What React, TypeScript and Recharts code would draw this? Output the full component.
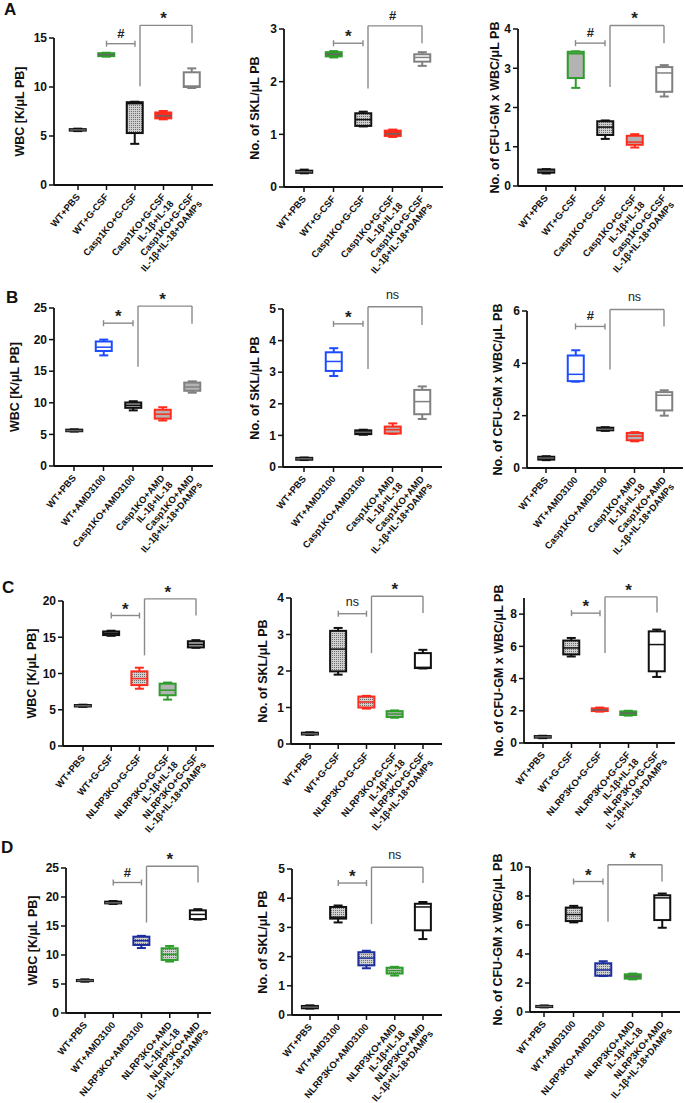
import { ComposedChart, Bar, XAxis, YAxis, ReferenceLine } from 'recharts';

const FONT = '"Liberation Sans", Arial, Helvetica, sans-serif';

// category labels (second line after \n)
const catsA = ['WT+PBS', 'WT+G-CSF', 'Casp1KO+G-CSF', 'Casp1KO+G-CSF\nIL-1β+IL-18', 'Casp1KO+G-CSF\nIL-1β+IL-18+DAMPs'];
const catsB = ['WT+PBS', 'WT+AMD3100', 'Casp1KO+AMD3100', 'Casp1KO+AMD\nIL-1β+IL-18', 'Casp1KO+AMD\nIL-1β+IL-18+DAMPs'];
const catsC = ['WT+PBS', 'WT+G-CSF', 'NLRP3KO+G-CSF', 'NLRP3KO+G-CSF\nIL-1β+IL-18', 'NLRP3KO+G-CSF\nIL-1β+IL-18+DAMPs'];
const catsD = ['WT+PBS', 'WT+AMD3100', 'NLRP3KO+AMD3100', 'NLRP3KO+AMD\nIL-1β+IL-18', 'NLRP3KO+AMD\nIL-1β+IL-18+DAMPs'];

// box stats per group: [min, q1, median, q3, max]
const wbcA = [[5.5, 5.55, 5.62, 5.7, 5.75], [13.1, 13.15, 13.3, 13.45, 13.5], [4.2, 5.3, 8.3, 8.45, 8.5], [6.7, 6.8, 7.05, 7.4, 7.55], [9.9, 10.0, 10.1, 11.5, 11.9]];
const sklA = [[0.26, 0.27, 0.29, 0.31, 0.33], [2.46, 2.48, 2.52, 2.56, 2.58], [1.15, 1.16, 1.28, 1.4, 1.43], [0.95, 0.97, 1.01, 1.07, 1.09], [2.3, 2.38, 2.46, 2.52, 2.56]];
const cfuA = [[0.32, 0.34, 0.38, 0.42, 0.43], [2.5, 2.75, 3.37, 3.42, 3.43], [1.2, 1.3, 1.5, 1.65, 1.67], [0.98, 1.05, 1.12, 1.28, 1.32], [2.28, 2.4, 2.88, 3.03, 3.08]];
const wbcB = [[5.45, 5.5, 5.6, 5.75, 5.8], [17.5, 18.2, 18.8, 19.7, 20.0], [8.8, 9.2, 9.6, 10.05, 10.25], [7.2, 7.5, 8.2, 8.9, 9.3], [11.6, 11.9, 12.5, 13.2, 13.4]];
const sklB = [[0.22, 0.23, 0.26, 0.29, 0.3], [2.88, 3.04, 3.34, 3.63, 3.76], [1.02, 1.04, 1.1, 1.16, 1.18], [1.05, 1.06, 1.18, 1.28, 1.38], [1.52, 1.67, 2.07, 2.44, 2.55]];
const cfuB = [[0.3, 0.32, 0.38, 0.43, 0.45], [3.3, 3.32, 3.58, 4.3, 4.5], [1.42, 1.44, 1.48, 1.54, 1.56], [1.02, 1.06, 1.22, 1.34, 1.37], [2.0, 2.2, 2.78, 2.9, 2.97]];
const wbcC = [[5.4, 5.45, 5.55, 5.65, 5.7], [15.2, 15.3, 15.55, 15.8, 15.9], [7.9, 8.4, 9.3, 10.3, 10.8], [6.4, 7.0, 7.7, 8.6, 8.75], [13.55, 13.6, 14.0, 14.45, 14.6]];
const sklC = [[0.25, 0.26, 0.28, 0.31, 0.32], [1.9, 1.99, 2.6, 3.1, 3.18], [0.97, 1.0, 1.15, 1.3, 1.32], [0.72, 0.74, 0.82, 0.9, 0.92], [2.07, 2.08, 2.1, 2.49, 2.58]];
const cfuC = [[0.3, 0.33, 0.38, 0.43, 0.45], [5.37, 5.5, 5.9, 6.36, 6.52], [1.95, 1.98, 2.05, 2.15, 2.2], [1.7, 1.74, 1.85, 1.96, 2.0], [4.1, 4.45, 6.11, 6.93, 7.04]];
const wbcD = [[5.4, 5.5, 5.6, 5.7, 5.8], [18.8, 18.9, 19.0, 19.2, 19.3], [11.2, 11.73, 12.47, 13.16, 13.3], [8.87, 9.15, 10.1, 11.16, 11.56], [16.1, 16.2, 17.0, 17.7, 17.9]];
const sklD = [[0.22, 0.23, 0.27, 0.31, 0.33], [3.17, 3.3, 3.35, 3.7, 3.75], [1.6, 1.7, 1.95, 2.15, 2.2], [1.35, 1.42, 1.52, 1.62, 1.65], [2.6, 2.9, 3.7, 3.81, 3.87]];
const cfuD = [[0.32, 0.34, 0.38, 0.42, 0.45], [6.18, 6.27, 6.72, 7.2, 7.32], [2.48, 2.5, 2.9, 3.36, 3.5], [2.25, 2.3, 2.45, 2.6, 2.65], [5.81, 6.34, 7.87, 8.05, 8.17]];

// significance: [short y, short label, long left y, long top y, long right y, long label]
const sigA1 = [14.42, '#', 10.08, 16.29, 14.49, '*'];
const sigA2 = [2.73, '*', 1.87, 3.06, 2.73, '#'];
const sigA3 = [3.64, '#', 2.52, 4.09, 3.64, '*'];
const sigB1 = [22.6, '*', 15.7, 25.3, 22.5, '*'];
const sigB2 = [4.53, '*', 3.1, 5.07, 4.49, 'ns'];
const sigB3 = [5.41, '#', 3.76, 6.06, 5.41, 'ns'];
const sigC1 = [18.0, '*', 12.5, 20.3, 18.0, '*'];
const sigC2 = [3.57, 'ns', 2.49, 4.05, 3.59, '*'];
const sigC3 = [8.06, '*', 5.58, 9.07, 8.1, '*'];
const sigD1 = [22.5, '#', 15.6, 25.3, 22.5, '*'];
const sigD2 = [4.52, '*', 3.12, 5.06, 4.52, 'ns'];
const sigD3 = [9.0, '*', 6.22, 10.16, 9.0, '*'];

// colours & fills (s = solid, w = white, g = grey, p = dotted pattern)
const BLACK = '#111111';
const GREEN = '#2f9d2b';
const RED = '#ff2b1c';
const GREY = '#808080';
const BLUE = '#1d4cff';
const NAVY = '#1c2e9e';
const colA = [BLACK, GREEN, BLACK, RED, GREY];
const colB = [BLACK, BLUE, BLACK, RED, GREY];
const colC = [BLACK, BLACK, RED, GREEN, BLACK];
const colD = [BLACK, BLACK, NAVY, GREEN, BLACK];

const WBC = 'WBC [K/μL PB]';
const SKL = 'No. of SKL/μL PB';
const CFU = 'No. of CFU-GM x WBC/μL PB';

const XTick = (p: any) => {
  const { x, y, payload } = p;
  const lines = String(payload.value).split('\n');
  return (
    <g transform={`translate(${x},${y + 3})`}>
      <text transform="rotate(-50)" textAnchor="end" fontSize={9.5} fontWeight="bold" fill="#111" fontFamily={FONT}>
        {lines.map((l, i) => (
          <tspan key={i} x={0} dy={i === 0 ? '0.35em' : '1.1em'}>{l}</tspan>
        ))}
      </text>
    </g>
  );
};

const makeBox = (colors: string[], fills: string[]) => (p: any) => {
  const { x, y, width, height } = p;
  const row = p.payload ?? p;
  const [mn, q1, md, q3, mx] = row.stats;
  const py = (v: number) => y + (height * (mx - v)) / (mx - mn);
  const cx = x + width / 2;
  const col = colors[row.idx];
  const f = fills[row.idx];
  const fill = f === 'w' ? '#fff' : f === 'g' ? '#b3b3b3' : f === 'p' ? 'url(#dither)' : col;
  const cap = 4.5;
  const sw = 2;
  return (
    <g>
      <line x1={cx} x2={cx} y1={py(mx)} y2={py(q3)} stroke={col} strokeWidth={sw} />
      <line x1={cx} x2={cx} y1={py(q1)} y2={py(mn)} stroke={col} strokeWidth={sw} />
      <line x1={cx - cap} x2={cx + cap} y1={py(mx)} y2={py(mx)} stroke={col} strokeWidth={sw} />
      <line x1={cx - cap} x2={cx + cap} y1={py(mn)} y2={py(mn)} stroke={col} strokeWidth={sw} />
      <rect x={x} y={py(q3)} width={width} height={Math.max(py(q1) - py(q3), 0.5)} fill={fill} stroke={col} strokeWidth={sw} />
      <line x1={x} x2={x + width} y1={py(md)} y2={py(md)} stroke={f === 's' ? '#666' : col} strokeWidth={1.5} />
    </g>
  );
};

const BR = '#8a8a8a';

const CapLine = (p: any) => (
  <g>
    <line x1={p.x1} y1={p.y1} x2={p.x2} y2={p.y2} stroke={BR} strokeWidth={1.4} />
    <line x1={p.x1} y1={p.y1 - 3} x2={p.x1} y2={p.y1 + 3} stroke={BR} strokeWidth={1.4} />
    <line x1={p.x2} y1={p.y2 - 3} x2={p.x2} y2={p.y2 + 3} stroke={BR} strokeWidth={1.4} />
  </g>
);

const shifted = (dx1: number, dx2: number) => (p: any) => (
  <line x1={p.x1 + dx1} y1={p.y1} x2={p.x2 + dx2} y2={p.y2} stroke={BR} strokeWidth={1.4} />
);

const sigLabel = (v: string) => ({
  value: v,
  position: 'top' as const,
  offset: v === '*' ? 1 : v === 'ns' ? 8 : 6,
  fill: '#222',
  fontSize: v === '*' ? 17 : v === 'ns' ? 12.5 : 13,
  fontWeight: v === 'ns' ? 'normal' : 'bold',
  fontFamily: FONT,
});

interface Geo { axisX: number; right: number; top: number; zero: number; c1: number; c5: number; gap: number }

interface PanelProps {
  geo: Geo;
  cats: string[];
  stats: number[][];
  colors: string[];
  fills: string[];
  yMax: number;
  ticks: number[];
  yLabel: string;
  sig: (number | string)[];
}

const Panel = ({ geo, cats, stats, colors, fills, yMax, ticks, yLabel, sig }: PanelProps) => {
  const YW = 45, ML = 10, MT = 45, XH = 90, MB = 5;
  const left = geo.axisX - YW - ML;
  const top = geo.top - MT;
  const width = geo.right - left;
  const height = geo.zero - top + XH + MB;
  const s = (geo.c5 - geo.c1) / 4;
  const padL = geo.c1 - s / 2 - geo.axisX;
  const padR = geo.right - geo.c5 - s / 2;
  const rows = cats.map((c, i) => ({ cat: c, range: [stats[i][0], stats[i][4]], stats: stats[i], idx: i }));
  const [sy, sl, lo, ty, hi, ll] = sig as [number, string, number, number, number, string];

  return (
    <div style={{ position: 'absolute', left, top }}>
      <ComposedChart width={width} height={height} data={rows} margin={{ top: MT, left: ML, right: 0, bottom: MB }}>
        <defs>
          <pattern id="dither" width="2" height="2" patternUnits="userSpaceOnUse">
            <rect width="2" height="2" fill="#cfcfcf" />
            <rect width="1" height="1" fill="#6f6f6f" />
          </pattern>
        </defs>
        <XAxis
          dataKey="cat"
          type="category"
          interval={0}
          padding={{ left: padL, right: padR }}
          height={XH}
          tick={<XTick />}
          tickSize={5}
          axisLine={{ stroke: '#111', strokeWidth: 1.8 }}
          tickLine={{ stroke: '#111', strokeWidth: 1.5 }}
        />
        <YAxis
          type="number"
          domain={[0, yMax]}
          ticks={ticks}
          width={YW}
          tickSize={5}
          tick={{ fontSize: 12, fontWeight: 'bold', fill: '#111', fontFamily: FONT }}
          axisLine={{ stroke: '#111', strokeWidth: 1.8 }}
          tickLine={{ stroke: '#111', strokeWidth: 1.5 }}
          label={{
            content: (lp: any) => {
              const vb = lp.viewBox || {};
              const cx = vb.x + vb.width - geo.gap;
              const cy = vb.y + vb.height / 2;
              return (
                <text x={cx} y={cy} transform={`rotate(-90 ${cx} ${cy})`} textAnchor="middle" dominantBaseline="central" fontSize={12.5} fontWeight="bold" fill="#111" fontFamily={FONT}>
                  {yLabel}
                </text>
              );
            },
          }}
        />
        <Bar dataKey="range" barSize={16} isAnimationActive={false} shape={makeBox(colors, fills)} />
        <ReferenceLine segment={[{ x: cats[1], y: sy }, { x: cats[2], y: sy }]} ifOverflow="visible" shape={CapLine} label={sigLabel(sl)} />
        <ReferenceLine segment={[{ x: cats[2], y: lo }, { x: cats[2], y: ty }]} ifOverflow="visible" shape={shifted(5, 5)} />
        <ReferenceLine segment={[{ x: cats[2], y: ty }, { x: cats[4], y: ty }]} ifOverflow="visible" shape={shifted(5, 0)} label={sigLabel(ll)} />
        <ReferenceLine segment={[{ x: cats[4], y: ty }, { x: cats[4], y: hi }]} ifOverflow="visible" shape={shifted(0, 0)} />
      </ComposedChart>
    </div>
  );
};

const Letter = ({ t, x, y }: { t: string; x: number; y: number }) => (
  <div style={{ position: 'absolute', left: x, top: y, fontFamily: FONT, fontWeight: 'bold', fontSize: 17, lineHeight: '17px', color: '#111' }}>{t}</div>
);

export default function App() {
  return (
    <div style={{ position: 'absolute', left: 0, top: 0, width: 685, height: 1103, overflow: 'hidden', background: '#fff' }}>
      <style>{'svg.recharts-surface { overflow: visible; }'}</style>
      <Letter t="A" x={4} y={1} />
      <Letter t="B" x={6} y={289} />
      <Letter t="C" x={2} y={579} />
      <Letter t="D" x={1} y={839} />

      <Panel geo={{ axisX: 54, right: 213, top: 38, zero: 185, c1: 78, c5: 192, gap: 34 }} cats={catsA} stats={wbcA} colors={colA} fills={['s', 's', 'p', 's', 'w']} yMax={15} ticks={[0, 5, 10, 15]} yLabel={WBC} sig={sigA1} />
      <Panel geo={{ axisX: 284, right: 443, top: 29, zero: 187, c1: 304, c5: 422, gap: 29 }} cats={catsA} stats={sklA} colors={colA} fills={['s', 's', 'p', 's', 'w']} yMax={3} ticks={[0, 1, 2, 3]} yLabel={SKL} sig={sigA2} />
      <Panel geo={{ axisX: 518, right: 683, top: 29, zero: 186, c1: 546, c5: 664, gap: 23 }} cats={catsA} stats={cfuA} colors={colA} fills={['s', 'g', 'p', 'g', 'w']} yMax={4} ticks={[0, 1, 2, 3, 4]} yLabel={CFU} sig={sigA3} />

      <Panel geo={{ axisX: 54, right: 213, top: 308, zero: 466, c1: 74, c5: 192, gap: 39 }} cats={catsB} stats={wbcB} colors={colB} fills={['s', 'w', 'g', 'g', 'g']} yMax={25} ticks={[0, 5, 10, 15, 20, 25]} yLabel={WBC} sig={sigB1} />
      <Panel geo={{ axisX: 283, right: 442, top: 309, zero: 467, c1: 304, c5: 422, gap: 28 }} cats={catsB} stats={sklB} colors={colB} fills={['s', 'w', 's', 'g', 'w']} yMax={5} ticks={[0, 1, 2, 3, 4, 5]} yLabel={SKL} sig={sigB2} />
      <Panel geo={{ axisX: 527, right: 683, top: 311, zero: 468, c1: 546, c5: 664, gap: 29 }} cats={catsB} stats={cfuB} colors={colB} fills={['s', 'w', 's', 'g', 'w']} yMax={6} ticks={[0, 2, 4, 6]} yLabel={CFU} sig={sigB3} />

      <Panel geo={{ axisX: 63, right: 214, top: 601, zero: 746, c1: 83, c5: 196, gap: 31 }} cats={catsC} stats={wbcC} colors={colC} fills={['s', 'g', 'p', 'g', 'g']} yMax={20} ticks={[0, 5, 10, 15, 20]} yLabel={WBC} sig={sigC1} />
      <Panel geo={{ axisX: 291, right: 442, top: 598, zero: 744, c1: 310, c5: 423, gap: 28 }} cats={catsC} stats={sklC} colors={colC} fills={['s', 'p', 'p', 'g', 'w']} yMax={4} ticks={[0, 1, 2, 3, 4]} yLabel={SKL} sig={sigC2} />
      <Panel geo={{ axisX: 524, right: 675, top: 598, zero: 743, c1: 543, c5: 657, gap: 25 }} cats={catsC} stats={cfuC} colors={colC} fills={['s', 'p', 's', 's', 'w']} yMax={9} ticks={[0, 2, 4, 6, 8]} yLabel={CFU} sig={sigC3} />

      <Panel geo={{ axisX: 66, right: 211, top: 868, zero: 1013, c1: 85, c5: 198, gap: 33 }} cats={catsD} stats={wbcD} colors={colD} fills={['s', 's', 'p', 'p', 'w']} yMax={25} ticks={[0, 5, 10, 15, 20, 25]} yLabel={WBC} sig={sigD1} />
      <Panel geo={{ axisX: 292, right: 442, top: 869, zero: 1015, c1: 310, c5: 423, gap: 29 }} cats={catsD} stats={sklD} colors={colD} fills={['s', 'p', 'p', 'p', 'w']} yMax={5} ticks={[0, 1, 2, 3, 4, 5]} yLabel={SKL} sig={sigD2} />
      <Panel geo={{ axisX: 530, right: 680, top: 867, zero: 1012, c1: 544, c5: 662, gap: 32 }} cats={catsD} stats={cfuD} colors={colD} fills={['s', 'p', 'p', 's', 'w']} yMax={10} ticks={[0, 2, 4, 6, 8, 10]} yLabel={CFU} sig={sigD3} />
    </div>
  );
}
